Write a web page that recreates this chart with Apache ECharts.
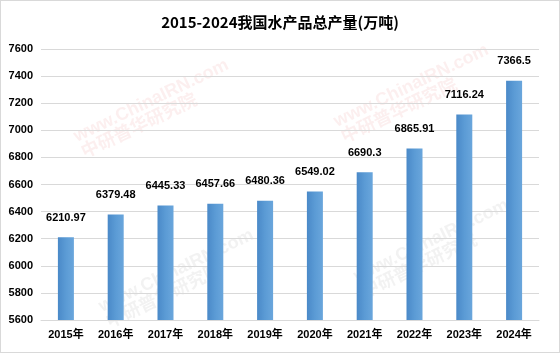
<!DOCTYPE html>
<html>
<head>
<meta charset="utf-8">
<script src="https://cdn.jsdelivr.net/npm/echarts@6/dist/echarts.min.js"></script>
<style>
  html, body { margin: 0; padding: 0; background: #fff; }
  #chart { width: 560px; height: 353px; box-sizing: border-box; border: 1px solid #d9d9d9; }
</style>
</head>
<body>
<div id="chart"></div>
<script>
const years = ['2015年', '2016年', '2017年', '2018年', '2019年', '2020年', '2021年', '2022年', '2023年', '2024年']
const output = [6210.97, 6379.48, 6445.33, 6457.66, 6480.36, 6549.02, 6690.3, 6865.91, 7116.24, 7366.5]
const labels = ['6210.97', '6379.48', '6445.33', '6457.66', '6480.36', '6549.02', '6690.3', '6865.91', '7116.24', '7366.5']

const myChart = echarts.init(document.getElementById('chart'))
const font = '"Liberation Sans", "Noto Sans CJK SC", sans-serif'

// faint watermark like the source image
const mark = (left, top, fill) => ({
  type: 'text', left, top, rotation: Math.PI / 7,
  style: { text: 'www.ChinaIRN.com\n中研普华研究院', fill, fontSize: 18, fontWeight: 'bold', fontFamily: font }
})

const option = {
  animation: false,
  title: {
    text: '2015-2024我国水产品总产量(万吨)',
    left: 'center',
    top: 9,
    textStyle: { fontFamily: '"Noto Sans CJK SC", sans-serif', fontSize: 15, fontWeight: 'bold', color: '#000' }
  },
  graphic: [
    mark(70, 55, 'rgba(230,120,120,0.12)'),
    mark(330, 40, 'rgba(230,120,120,0.12)'),
    mark(95, 225, 'rgba(150,150,150,0.12)'),
    mark(350, 195, 'rgba(150,150,150,0.12)')
  ],
  grid: { left: 40, right: 20, top: 48, bottom: 32 },
  xAxis: {
    type: 'category',
    data: years,
    axisLine: { lineStyle: { color: '#d9d9d9' } },
    axisTick: { show: false },
    axisLabel: { color: '#000', fontSize: 11, fontWeight: 'bold', fontFamily: font, margin: 9 }
  },
  yAxis: {
    type: 'value',
    min: 5600,
    max: 7600,
    interval: 200,
    axisLine: { show: false },
    axisTick: { show: false },
    splitLine: { lineStyle: { color: '#d9d9d9' } },
    axisLabel: {
      color: '#000', fontSize: 11, fontWeight: 'bold', fontFamily: font, margin: 8,
      formatter: v => String(v)
    }
  },
  series: [
    {
      type: 'bar',
      data: output,
      barWidth: 16,
      itemStyle: {
        color: new echarts.graphic.LinearGradient(0, 0, 1, 0, [
          { offset: 0, color: '#4a89c8' },
          { offset: 0.5, color: '#5b9bd5' },
          { offset: 1, color: '#6aa6dc' }
        ])
      },
      label: {
        show: true,
        position: 'top',
        distance: 14,
        color: '#000',
        fontSize: 11,
        fontWeight: 'bold',
        fontFamily: font,
        formatter: p => labels[p.dataIndex]
      }
    }
  ]
}
myChart.setOption(option, true)
</script>
</body>
</html>
